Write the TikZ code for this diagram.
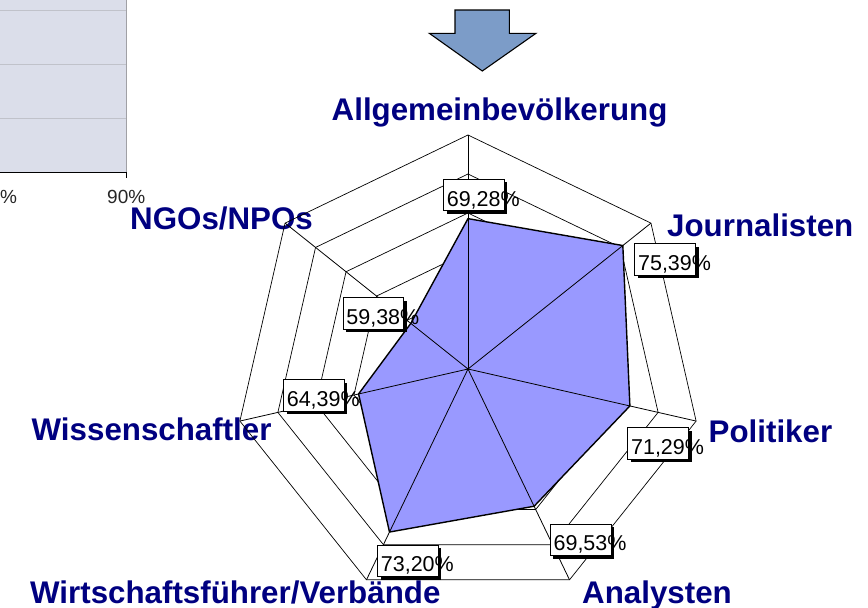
\documentclass[tikz,border=0pt]{standalone}
\usepackage{fontspec}
\setmainfont{Liberation Sans}
\usetikzlibrary{shadows}
\definecolor{navy}{RGB}{0,0,128}
\definecolor{seriesfill}{RGB}{153,153,255}
\definecolor{arrowfill}{RGB}{124,156,200}
\definecolor{plotbg}{RGB}{219,222,234}
\definecolor{gridgray}{RGB}{192,194,202}
\definecolor{framegray}{RGB}{160,160,165}

\begin{document}
\begin{tikzpicture}[x=1pt,y=-1pt,
  catlabel/.style={font=\fontsize{31.3}{31.3}\selectfont\bfseries, text=navy, anchor=base west, inner sep=0pt},
  axislabel/.style={font=\fontsize{19}{19}\selectfont, text=black!85, anchor=base west, inner sep=0pt},
  valbox/.style={draw=black, line width=0.8pt, fill=white,
    font=\fontsize{21.5}{21.5}\selectfont, inner xsep=3.5pt, inner ysep=0pt,
    text height=26.8pt, text depth=4.7pt,
    drop shadow={shadow xshift=3.2pt, shadow yshift=-3.2pt, fill=black, opacity=1}},
  ring/.style={draw=black, line width=0.7pt},
  spoke/.style={draw=black, line width=0.8pt},
  series/.style={draw=black, line width=1.4pt, fill=seriesfill, line join=round},
  downarrow/.style={draw=black, line width=1.1pt, fill=arrowfill, line join=miter},
]
\useasboundingbox (0,0) rectangle (868,608);

% corner of the neighbouring bar chart
\fill[plotbg] (0,0) rectangle (126,172);
\foreach \gy in {10.7,64.3,118.3}
  \draw[gridgray, line width=0.8pt] (0,\gy) -- (126,\gy);
\draw[framegray, line width=1pt] (126,0) -- (126,172);
\draw[black, line width=1pt] (0,172) -- (126,172) -- (126,178);
\node[axislabel] (pctcut) at (0,203.5) {\%};
\node[axislabel] (pct90) at (107,203.5) {90\%};

% block arrow
\draw[downarrow] (455,10) -- (509.3,10) -- (509.3,33.3) -- (536,33.3)
  -- (482.3,71) -- (429.3,33.3) -- (455,33.3) -- cycle;

% category labels
\node[catlabel] (cA) at (331.5,120) {Allgemeinbevölkerung};
\node[catlabel] (cJ) at (667,236) {Journalisten};
\node[catlabel] (cP) at (708.5,442) {Politiker};
\node[catlabel] (cN) at (582,603) {Analysten};
\node[catlabel] (cW) at (30,603) {Wirtschaftsführer/Verbände};
\node[catlabel] (cS) at (31.5,440) {Wissenschaftler};
\node[catlabel, text height=22.5pt] (cG) at (130,229.5) {NGOs/NPOs};

\coordinate (O) at (468,369);
\begin{scope}[shift={(O)}]
  % grid rings, 55 % to 80 %
  \foreach \k in {1,...,6}
    \draw[ring] ({-90}:{39*\k}) \foreach \i in {1,...,6} { -- ({-90+\i*360/7}:{39*\k}) } -- cycle;
  % data points, scale 50 % (centre) to 80 % (outer ring)
  \coordinate (pA) at ({-90}:{(69.28-50)*7.8});
  \coordinate (pJ) at ({-90+1*360/7}:{(75.39-50)*7.8});
  \coordinate (pP) at ({-90+2*360/7}:{(71.29-50)*7.8});
  \coordinate (pN) at ({-90+3*360/7}:{(69.53-50)*7.8});
  \coordinate (pW) at ({-90+4*360/7}:{(73.20-50)*7.8});
  \coordinate (pS) at ({-90+5*360/7}:{(64.39-50)*7.8});
  \coordinate (pG) at ({-90+6*360/7}:{(59.38-50)*7.8});
  \draw[series] (pA) -- (pJ) -- (pP) -- (pN) -- (pW) -- (pS) -- (pG) -- cycle;
  % spokes
  \foreach \i in {0,...,6}
    \draw[spoke] (O) -- ({-90+\i*360/7}:234);
\end{scope}
\fill (O) circle (1.3);

% value labels
\node[valbox] (vA) at (473.7,195) {69,28\rlap{\%}};
\node[valbox] (vJ) at (665,259.5) {75,39\rlap{\%}};
\node[valbox] (vG) at (373.3,313.2) {59,38\rlap{\%}};
\node[valbox] (vS) at (313.7,395.2) {64,39\rlap{\%}};
\node[valbox] (vW) at (407.8,560.8) {73,20\rlap{\%}};
\node[valbox] (vN) at (580.5,539.7) {69,53\rlap{\%}};
\node[valbox] (vP) at (658,443.2) {71,29\rlap{\%}};
\end{tikzpicture}
\end{document}
